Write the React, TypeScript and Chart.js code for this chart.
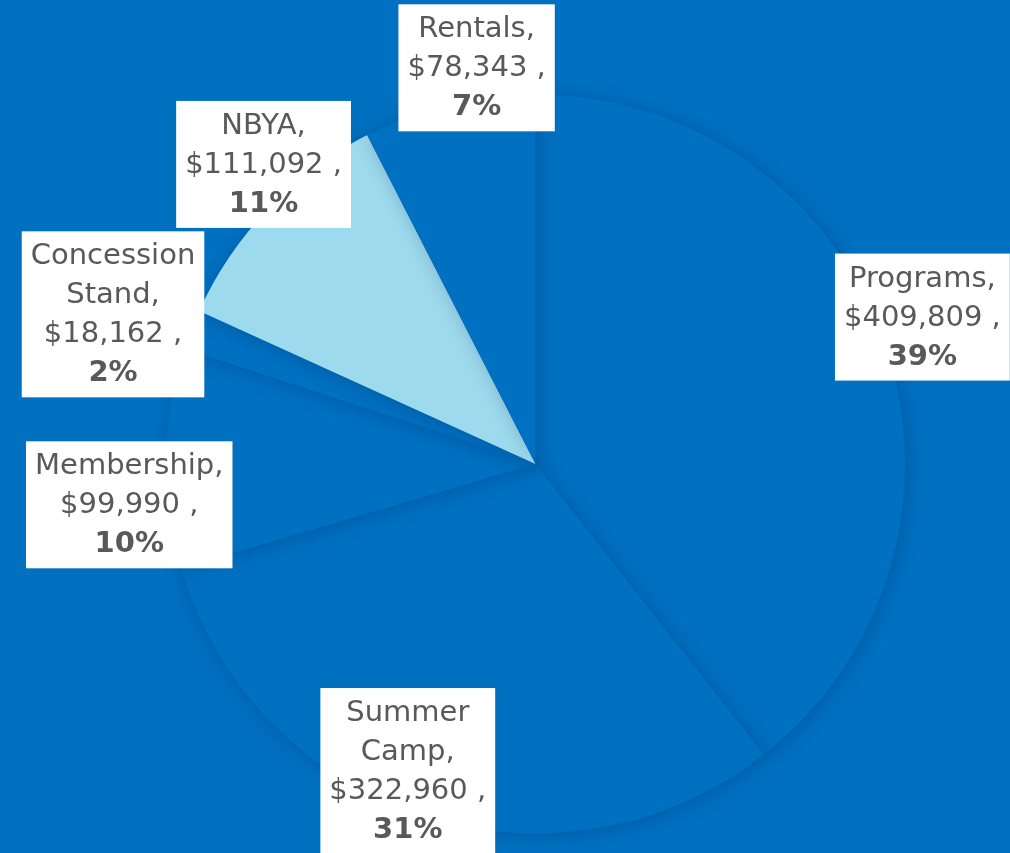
import React, { useEffect, useRef } from "react";
import { Chart, registerables } from "chart.js";

Chart.register(...registerables);

const categories = ["Programs", "Summer Camp", "Membership", "Concession Stand", "NBYA", "Rentals"];
const amounts = [409809, 322960, 99990, 18162, 111092, 78343];
const percentLabels = ["39%", "31%", "10%", "2%", "11%", "7%"];
const sliceColors = ["#0070C0", "#0070C0", "#0070C0", "#0070C0", "#9DDAEE", "#0070C0"];

// label placement: radius factor and angle offset (degrees) relative to slice middle
const labelRadius = [1.12, 0.9, 1.105, 1.213, 1.095, 1.084];
const labelAngleShift = [-1.7, 4.9, -6.6, -1.8, 4.1, 5.1];

const FONT_FAMILY = '"Century Gothic", "DejaVu Sans", sans-serif';

const fmtMoney = (v: number) => "$" + v.toLocaleString("en-US") + " ,";

const shadowPlugin = {
  id: "sliceShadow",
  beforeDatasetDraw(chart: any) {
    const ctx = chart.ctx;
    ctx.save();
    ctx.shadowColor = "rgba(0,20,60,0.22)";
    ctx.shadowBlur = 18;
    ctx.shadowOffsetX = 2;
    ctx.shadowOffsetY = 2;
  },
  afterDatasetDraw(chart: any) {
    chart.ctx.restore();
  },
};

const labelPlugin = {
  id: "boxLabels",
  afterDatasetsDraw(chart: any) {
    const ctx = chart.ctx;
    const meta = chart.getDatasetMeta(0);
    const fontSize = 29;
    const lineH = 39;
    meta.data.forEach((arc: any, i: number) => {
      const { x, y, startAngle, endAngle, outerRadius } = arc.getProps(
        ["x", "y", "startAngle", "endAngle", "outerRadius"],
        true
      );
      const mid = (startAngle + endAngle) / 2 + (labelAngleShift[i] * Math.PI) / 180;
      const r = outerRadius * labelRadius[i];
      const cx = x + Math.cos(mid) * r;
      const cy = y + Math.sin(mid) * r;
      const nameLines = categories[i].split(" ");
      nameLines[nameLines.length - 1] += ",";
      const lines = [...nameLines, fmtMoney(amounts[i])];
      const all = [...lines, percentLabels[i]];
      ctx.save();
      let maxW = 0;
      all.forEach((t, k) => {
        ctx.font = (k === all.length - 1 ? "bold " : "") + fontSize + "px " + FONT_FAMILY;
        maxW = Math.max(maxW, ctx.measureText(t).width);
      });
      const w = maxW + 18;
      const h = all.length * lineH + 10;
      ctx.shadowColor = "transparent";
      ctx.fillStyle = "#FFFFFF";
      ctx.fillRect(cx - w / 2, cy - h / 2, w, h);
      ctx.fillStyle = "#595959";
      ctx.textAlign = "center";
      ctx.textBaseline = "middle";
      all.forEach((t, k) => {
        ctx.font = (k === all.length - 1 ? "bold " : "") + fontSize + "px " + FONT_FAMILY;
        ctx.fillText(t, cx, cy - h / 2 + 5 + lineH * (k + 0.5) + 1);
      });
      ctx.restore();
    });
  },
};

export default function App() {
  const ref = useRef<HTMLCanvasElement | null>(null);
  useEffect(() => {
    document.body.style.margin = "0";
    document.body.style.background = "#0070C0";
    if (!ref.current) return;
    const chart = new Chart(ref.current, {
      type: "pie",
      data: {
        labels: categories,
        datasets: [
          {
            data: amounts,
            backgroundColor: sliceColors,
            borderWidth: 0,
          },
        ],
      },
      options: {
        animation: false,
        responsive: false,
        maintainAspectRatio: false,
        layout: { padding: { left: 166, right: 105, top: 94, bottom: 19 } },
        plugins: {
          legend: { display: false },
          tooltip: { enabled: false },
        },
      },
      plugins: [shadowPlugin, labelPlugin],
    });
    return () => chart.destroy();
  }, []);
  return (
    <div style={{ position: "absolute", left: 0, top: 0, width: 1010, height: 853, background: "#0070C0" }}>
      <canvas ref={ref} width={1010} height={853} style={{ display: "block", width: 1010, height: 853 }} />
    </div>
  );
}
